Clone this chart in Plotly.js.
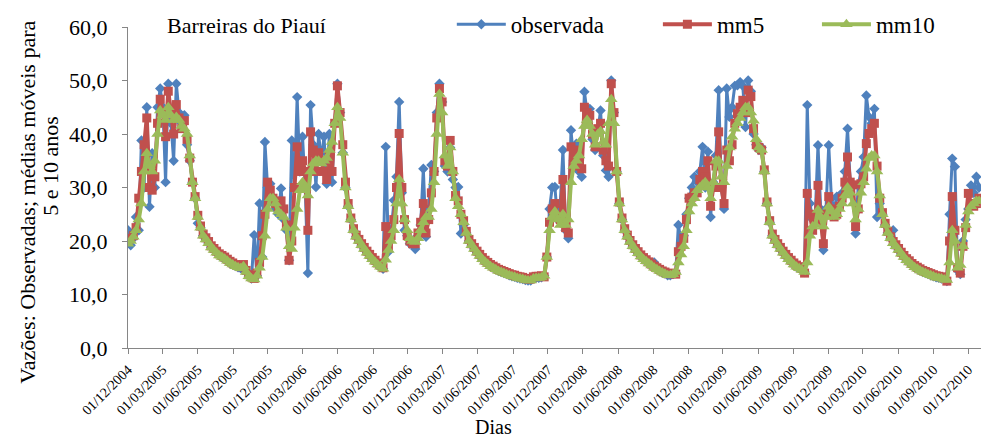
<!DOCTYPE html>
<html>
<head>
<meta charset="utf-8">
<script src="https://cdn.plot.ly/plotly-3.0.1.min.js"></script>
<style>html,body{margin:0;padding:0;background:#fff;}#chart{width:981px;height:437px;}</style>
</head>
<body>
<div id="chart"></div>
<script>
// Weekly readings from 01/12/2004 (one value every 7 days)
const startDate = [2004, 11, 1];
const stepDays = 7;

const observada = [
22, 19.2, 20.5, 24.5, 22, 38.8, 30, 45, 26.4, 36.4,
30, 45, 48.5, 45, 31, 49.4, 42, 35, 49.4, 44,
42, 43.5, 38, 35, 31, 28, 23.3, 22.5, 21, 20.3,
19.6, 18.8, 18.3, 17.8, 17.3, 17, 16.7, 16.3, 15.9, 15.6,
15.3, 15.1, 14.9, 15.3, 14.2, 13.4, 13, 21.1, 13.5, 27,
17, 38.5, 30, 30.7, 27, 26, 25, 29.8, 24, 22,
16.4, 38.8, 30, 46.9, 33, 39.5, 30, 14, 45.4, 38,
30.1, 40, 35, 39.5, 30.7, 40, 31, 42, 49.4, 44,
36.5, 30, 26.5, 24, 22, 20.8, 20, 19.2, 18.5, 17.8,
17.2, 16.6, 16.1, 15.6, 15.2, 14.8, 37.6, 18, 22, 27.6,
32, 46, 29, 22, 21, 19.5, 20, 18.5, 21, 23,
33.5, 20.8, 26, 34.2, 33, 44, 49.4, 46, 34, 33,
37.5, 31.5, 30, 30.1, 21.4, 23, 21.5, 20, 19.2, 18.5,
17.8, 17.2, 16.6, 16.1, 15.7, 15.3, 15, 14.7, 14.4, 14.2,
14, 13.8, 13.6, 13.4, 13.3, 13.1, 13, 12.9, 12.7, 12.6,
12.6, 13, 13.1, 13.1, 13.2, 13.5, 17, 26, 30, 30.1,
24, 27, 37, 22, 20.5, 40.7, 35, 38.2, 33, 32,
47.9, 44, 44.7, 39, 37, 40.5, 44.4, 36, 33.2, 32,
50, 44, 33, 27, 24, 22, 20.8, 19.8, 19, 18.3,
17.7, 17.1, 16.6, 16.2, 15.8, 15.4, 16, 14.7, 14.4, 14.1,
13.9, 13.6, 13.6, 13.8, 14, 23, 20, 21, 25, 28,
30, 32, 31, 33, 37.6, 30, 36.7, 24.5, 31, 36,
48.2, 30, 26, 48.5, 43.2, 45, 49, 49.1, 49.7, 49,
41.3, 50, 48, 40, 38, 37, 37.5, 33, 27, 23.5,
21, 20, 19.2, 18.5, 17.8, 17.2, 16.6, 16.1, 15.6, 15.2,
14.9, 14.6, 14.2, 45.4, 27, 24, 25, 37.9, 26, 18.3,
26, 37.9, 28, 26, 28.3, 28, 29, 33, 41, 31,
30.4, 21.4, 30.5, 33, 35.7, 47.2, 43.2, 42, 44.7, 24.5,
27, 25, 23, 21.5, 20.5, 22, 19, 18.3, 17.6, 17,
16.4, 16, 15.5, 15.1, 14.8, 14.5, 14.2, 14, 13.8, 13.6,
13.4, 13.2, 13.1, 13, 12.8, 12.5, 25, 35.4, 33.9, 14.5,
13.8, 20, 24, 26, 30.4, 29, 32, 30
];

const mm5 = [
20, 20.5, 21, 22.5, 28, 33, 38, 43, 30, 29.5,
32, 42, 46.5, 44, 39.5, 48, 44, 40, 45.5, 43,
41, 42.5, 39, 35.5, 31, 28.3, 24.8, 22.8, 21.3, 20.6,
19.9, 19.1, 18.6, 18.1, 17.6, 17.3, 17, 16.6, 16.2, 15.9,
15.6, 15.4, 15.2, 15.6, 14.5, 13.7, 13.3, 13, 14, 16,
21, 25, 31, 29.5, 28, 27, 26.4, 27.5, 26, 23,
16.4, 20, 30, 37.6, 33, 35, 33, 22, 40.4, 37,
33, 36.5, 35, 33, 31.5, 36, 33, 42, 49, 44,
38, 31, 27, 24.3, 22.3, 21.1, 20.3, 19.5, 18.8, 18.1,
17.5, 16.9, 16.4, 15.9, 15.5, 15, 22.7, 19, 21, 24,
30, 40.1, 30, 24, 21, 20, 19.5, 19.5, 21.5, 23.5,
27, 21.5, 24, 29, 33, 43, 48.5, 46, 35, 34,
38.8, 33, 28.5, 27.5, 25, 23.8, 21.8, 20.3, 19.5, 18.8,
18.1, 17.5, 16.9, 16.4, 16, 15.6, 15.3, 15, 14.7, 14.5,
14.3, 14.1, 13.9, 13.7, 13.6, 13.4, 13.3, 13.2, 13, 12.9,
12.9, 13.3, 13.4, 13.4, 13.5, 13.3, 17, 23.5, 26, 27,
24.5, 24, 31.5, 22.5, 21.5, 37.6, 34, 37, 34.5, 33.5,
45, 44, 43.5, 40, 37.6, 41, 42, 37, 35, 34,
49.4, 44, 33, 27.3, 24.3, 22.3, 21.1, 20.1, 19.3, 18.6,
18, 17.4, 16.9, 16.5, 16.1, 15.7, 15.3, 15, 14.7, 14.4,
14.2, 13.9, 13.9, 14, 13.8, 18, 19, 20.5, 24, 28,
28.2, 29, 29, 31.5, 33, 32, 35, 26.5, 30, 34,
40.4, 30, 27, 37, 35, 38, 42, 43.8, 45, 46.3,
44, 48.2, 47, 41, 38, 37.5, 37, 33.3, 27.3, 23.8,
21.3, 20.3, 19.5, 18.8, 18.1, 17.5, 16.9, 16.4, 15.9, 15.5,
15.2, 14.9, 14, 28.9, 25, 22, 24, 30.4, 24, 19.5,
25, 28.3, 26, 24.5, 25, 26.5, 28, 31, 35.7, 31,
30.5, 22.7, 26, 30.7, 32, 38.2, 40.1, 41, 42, 34,
28, 25.3, 23.3, 21.8, 20.8, 19.9, 19.3, 18.6, 17.9, 17.3,
16.7, 16.3, 15.8, 15.4, 15.1, 14.8, 14.5, 14.3, 14.1, 13.9,
13.7, 13.5, 13.4, 13.3, 13.1, 12.5, 20, 28.3, 22, 15,
14, 19, 22.5, 28.9, 27, 26.5, 27, 28
];

const mm10 = [
19.5, 20, 20.8, 22, 24, 27, 33, 36.4, 34, 33,
35, 40, 44.4, 43.5, 42.6, 45, 43.5, 42.6, 43.2, 42.6,
41.5, 41, 40, 36, 31, 28, 24.5, 22.5, 21, 20.3,
19.6, 18.8, 18.3, 17.8, 17.3, 17, 16.7, 16.3, 15.9, 15.6,
15.3, 15.1, 14.9, 15.3, 14.2, 13.4, 13, 12.8, 13.5, 15,
17, 21, 26, 28, 28, 27, 25.5, 25, 24.5, 22.5,
19, 18.5, 22.5, 26, 29.5, 31, 30, 28.5, 33, 34.5,
35, 35, 34.5, 35, 35.5, 37, 38.5, 42, 45, 43,
36.5, 30, 26.5, 24, 22, 20.8, 20, 19.2, 18.5, 17.8,
17.2, 16.6, 16.1, 15.6, 15.2, 14.8, 16.5, 18.3, 20, 22,
27, 31.5, 27, 24, 22, 20.5, 20, 19.8, 20.5, 22,
23.5, 24.5, 24.5, 26, 31, 40, 47.5, 44, 36, 34,
37.5, 33, 28, 26.5, 25, 23.5, 21.5, 20, 19.2, 18.5,
17.8, 17.2, 16.6, 16.1, 15.7, 15.3, 15, 14.7, 14.4, 14.2,
14, 13.8, 13.6, 13.4, 13.3, 13.1, 13, 12.9, 12.7, 12.6,
12.6, 13, 13.1, 13.1, 13.2, 13.5, 17, 22, 24.5, 25.5,
24, 23, 25, 23, 24, 31, 34, 35, 36, 39,
41.5, 42.6, 41.5, 40, 38, 40, 40.5, 38.5, 38, 42,
46.5, 42, 33, 27, 24, 22, 20.8, 19.8, 19, 18.3,
17.7, 17.1, 16.6, 16.2, 15.8, 15.4, 15, 14.7, 14.4, 14.1,
13.9, 13.6, 13.6, 13.8, 14.2, 16, 17.5, 19, 22, 25.5,
27, 28, 29.5, 30, 30.5, 31, 30, 28, 31, 35,
35, 32, 31, 34, 37.5, 39.5, 41, 42, 43, 44,
45, 45, 44, 42.5, 39, 37.5, 37, 33, 27, 23.5,
21, 20, 19.2, 18.5, 17.8, 17.2, 16.6, 16.1, 15.6, 15.2,
14.9, 14.6, 14.2, 16, 21, 22.7, 23, 25.8, 24.5, 22.7,
24.5, 26.4, 25.5, 24.5, 25, 26, 27, 28.5, 30, 29,
27, 24, 26, 29, 31, 33.5, 35.5, 36, 36, 33,
28.5, 25, 23, 21.5, 20.5, 19.6, 19, 18.3, 17.6, 17,
16.4, 16, 15.5, 15.1, 14.8, 14.5, 14.2, 14, 13.8, 13.6,
13.4, 13.2, 13.1, 13, 12.8, 12.7, 16, 22, 20, 15,
15.5, 19, 23, 25.5, 26.5, 27, 27.5, 27.5
];

const seriesNames = ['observada', 'mm5', 'mm10'];
const chartTitle = 'Barreiras do Piauí';
const yTitleLine1 = 'Vazões: Observadas; médias móveis para';
const yTitleLine2 = '5 e 10 anos';
const xTitle = 'Dias';

const dates = observada.map((_, i) =>
  new Date(Date.UTC(startDate[0], startDate[1], startDate[2] + stepDays * i)).toISOString().slice(0, 10));

const FONT = '"Liberation Serif", "DejaVu Serif", "Times New Roman", Times, serif';
const L = 128.3, R = 981, T = 26.7, B = 348.3;
const W = R - L, H = B - T;
const px = x => (x - L) / W;
const py = y => (B - y) / H;

const traces = [
  {x: dates, y: observada, name: seriesNames[0], type: 'scatter', mode: 'lines+markers',
   line: {color: '#4F81BD', width: 3}, marker: {symbol: 'diamond', size: 8, color: '#4F81BD'}, legend: 'legend'},
  {x: dates, y: mm5, name: seriesNames[1], type: 'scatter', mode: 'lines+markers',
   line: {color: '#C0504D', width: 4}, marker: {symbol: 'square', size: 9, color: '#C0504D'}, legend: 'legend2'},
  {x: dates, y: mm10, name: seriesNames[2], type: 'scatter', mode: 'lines+markers',
   line: {color: '#9BBB59', width: 4}, marker: {symbol: 'triangle-up', size: 11, color: '#9BBB59'}, legend: 'legend3'}
];

const legendBase = {orientation: 'h', yanchor: 'middle', xanchor: 'left', y: py(24),
  font: {family: FONT, size: 23, color: '#000'}, bgcolor: 'rgba(0,0,0,0)', itemwidth: 49, borderwidth: 0};

const layout = {
  width: 981, height: 437,
  margin: {l: L, r: 0, t: T, b: 437 - B, pad: 0},
  paper_bgcolor: '#fff', plot_bgcolor: '#fff',
  separators: ',.',
  font: {family: FONT, color: '#000'},
  showlegend: true,
  legend: Object.assign({}, legendBase, {x: px(452)}),
  legend2: Object.assign({}, legendBase, {x: px(658)}),
  legend3: Object.assign({}, legendBase, {x: px(817)}),
  xaxis: {
    type: 'date', range: ['2004-12-01', '2011-01-03'],
    tick0: '2004-12-01', dtick: 'M3', tickformat: '%d/%m/%Y', tickangle: -45,
    tickfont: {family: FONT, size: 14, color: '#000'},
    showgrid: false, zeroline: false, showline: true, linecolor: '#868686', linewidth: 1,
    ticks: 'outside', ticklen: 5, tickcolor: '#868686', tickwidth: 1, ticklabelstandoff: 2, automargin: false
  },
  yaxis: {
    range: [0, 60], dtick: 10, tick0: 0, tickformat: '.1f',
    tickfont: {family: FONT, size: 22, color: '#000'},
    showgrid: false, zeroline: false, showline: true, linecolor: '#868686', linewidth: 1,
    ticks: 'outside', ticklen: 5, tickcolor: '#868686', tickwidth: 1, ticklabelstandoff: 10, automargin: false
  },
  annotations: [
    {text: chartTitle, xref: 'paper', yref: 'paper', x: px(165), y: py(25),
     showarrow: false, xanchor: 'left', yanchor: 'middle',
     font: {family: FONT, size: 22, color: '#000'}},
    {text: yTitleLine1, xref: 'paper', yref: 'paper', x: px(28), y: py(202), textangle: -90,
     showarrow: false, xanchor: 'center', yanchor: 'middle',
     font: {family: FONT, size: 22, color: '#000'}},
    {text: yTitleLine2, xref: 'paper', yref: 'paper', x: px(50), y: py(166), textangle: -90,
     showarrow: false, xanchor: 'center', yanchor: 'middle',
     font: {family: FONT, size: 22, color: '#000'}},
    {text: xTitle, xref: 'paper', yref: 'paper', x: px(494), y: py(427),
     showarrow: false, xanchor: 'center', yanchor: 'middle',
     font: {family: FONT, size: 20, color: '#000'}}
  ]
};

Plotly.newPlot('chart', traces, layout, {displayModeBar: false, staticPlot: true});
</script>
</body>
</html>
